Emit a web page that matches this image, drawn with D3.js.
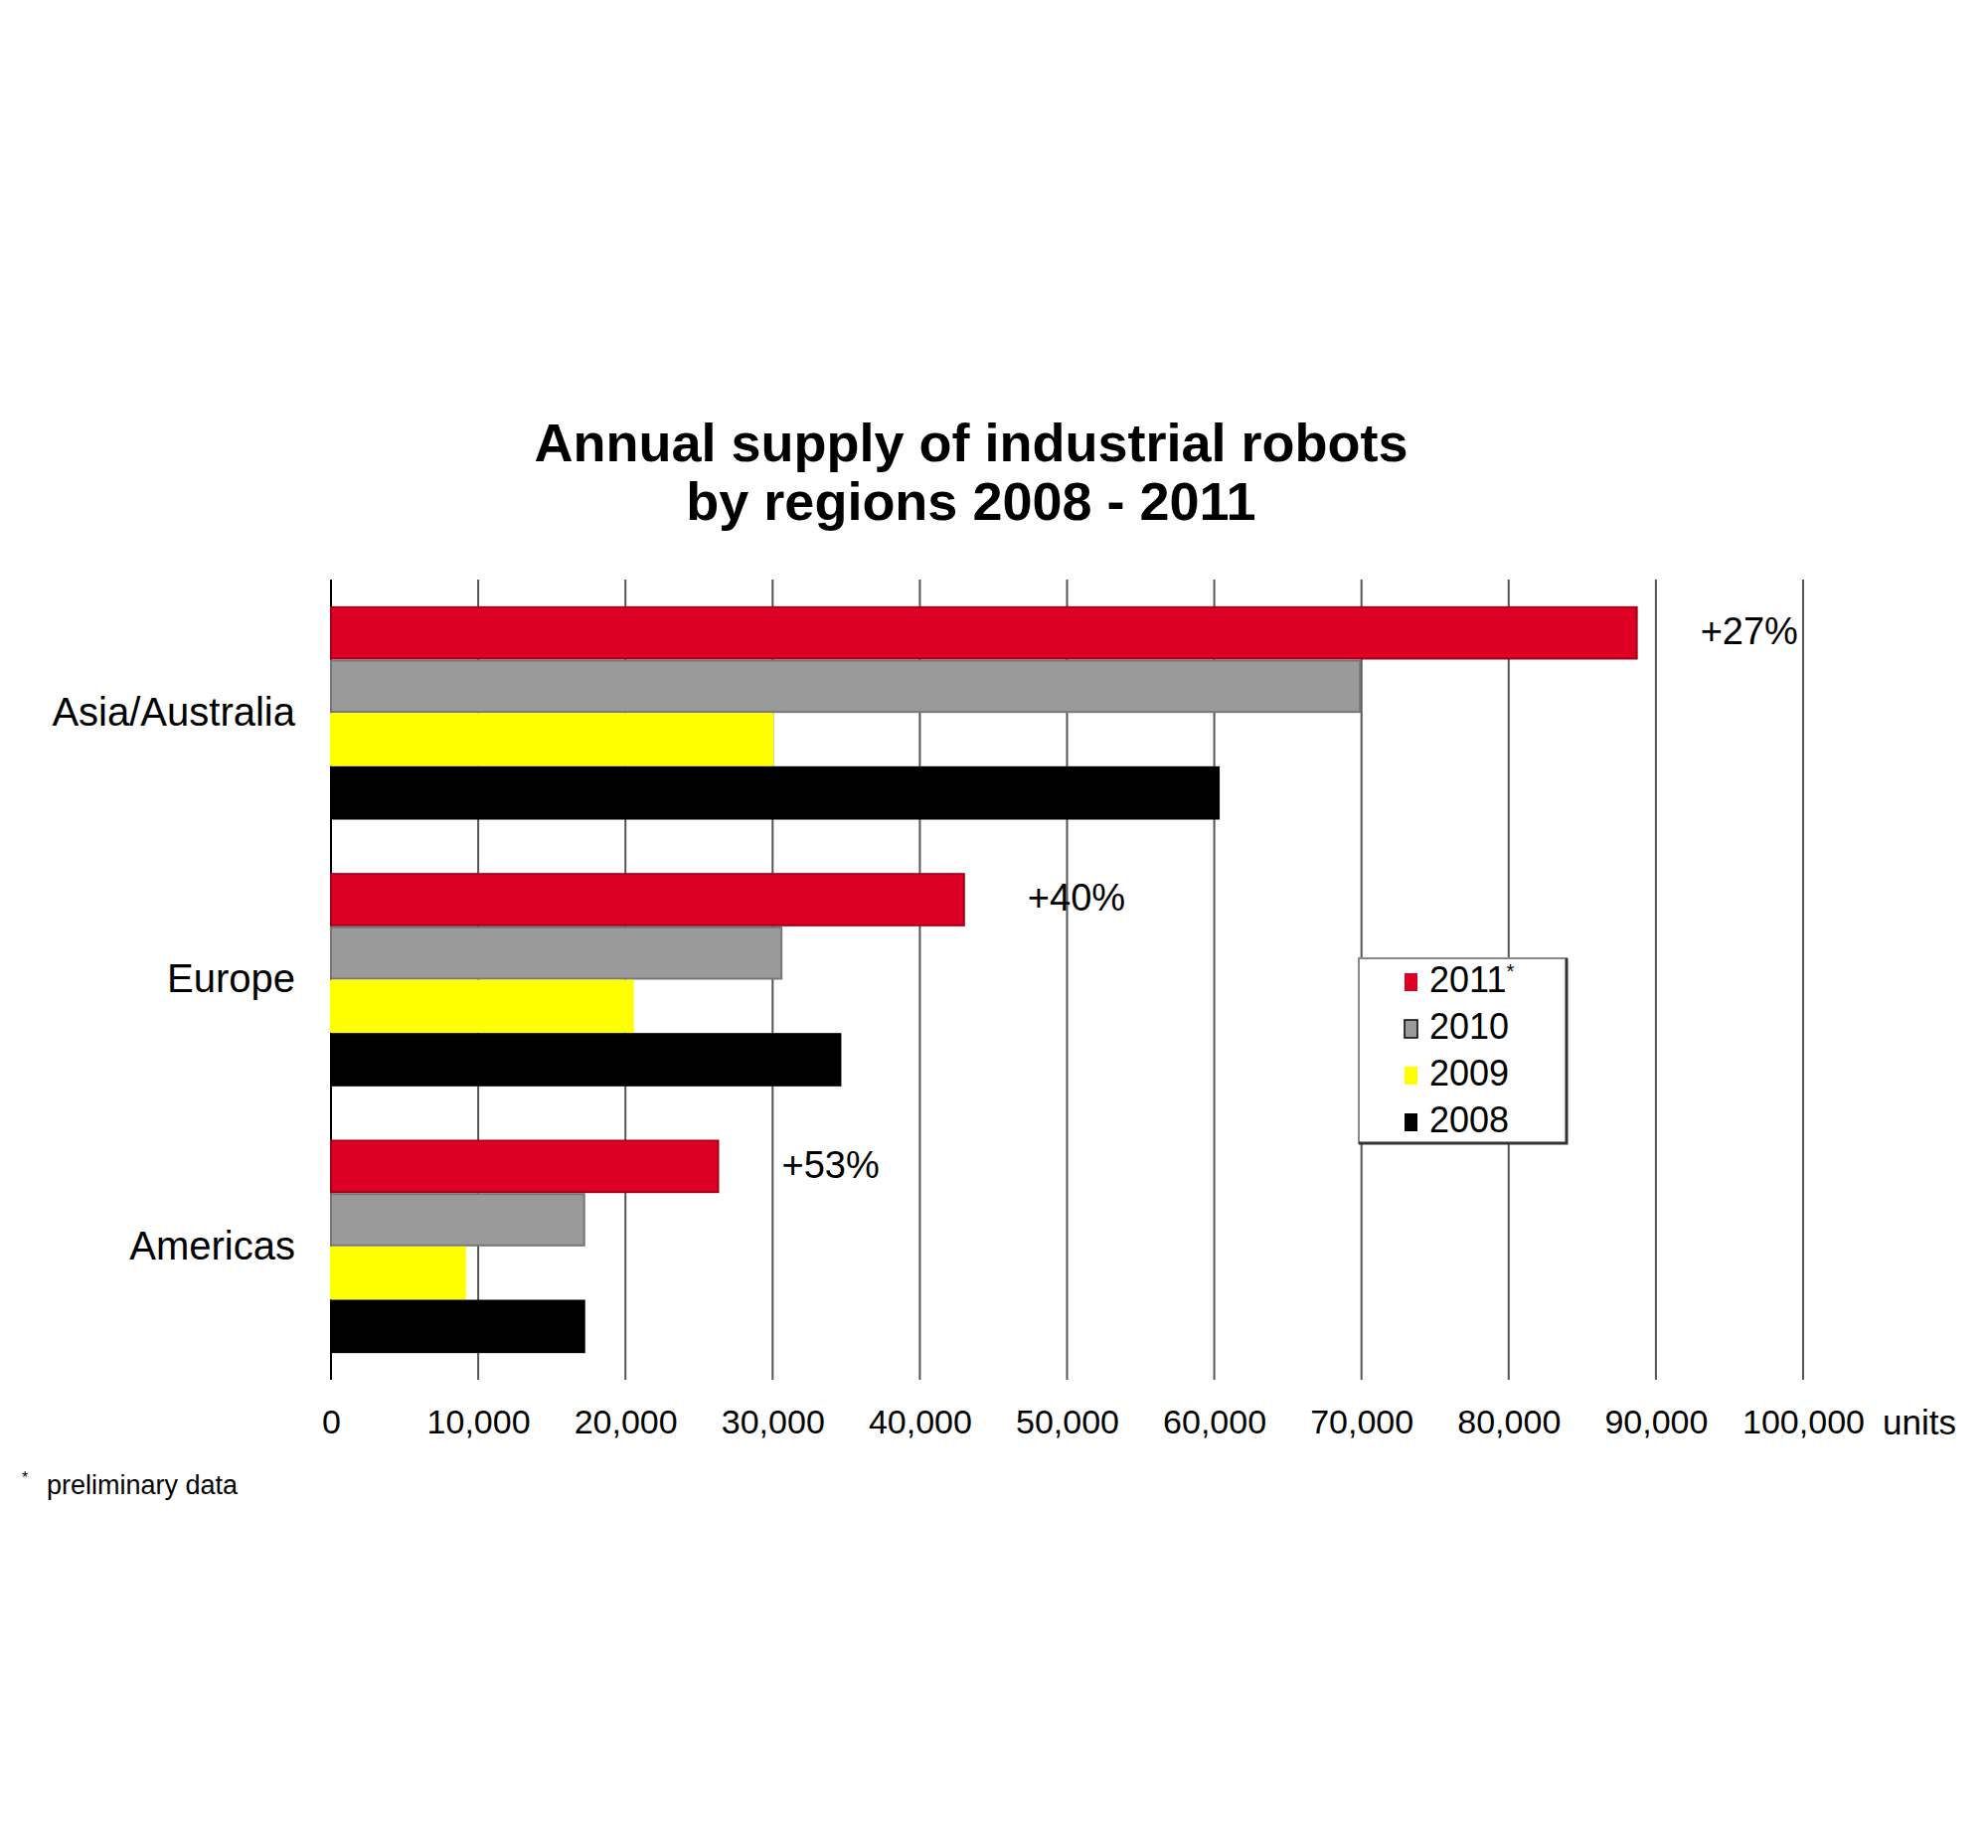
<!DOCTYPE html>
<html>
<head>
<meta charset="utf-8">
<script src="https://cdn.jsdelivr.net/npm/d3@7"></script>
<style>
  body { margin: 0; background: #fff; }
  text { font-family: "Liberation Sans", Arial, sans-serif; fill: #000; }
</style>
</head>
<body>
<div id="container"></div>
<script>
/* DATA */
const regions = ["Asia/Australia", "Europe", "Americas"]
const years = ["2011", "2010", "2009", "2008"]
const supply2011 = [88700, 43000, 26300]
const supply2010 = [69900, 30600, 17200]
const supply2009 = [30000, 20500, 9100]
const supply2008 = [60300, 34600, 17200]
const growth = ["+27%", "+40%", "+53%"]
const tickValues = [0, 10000, 20000, 30000, 40000, 50000, 60000, 70000, 80000, 90000, 100000]

/* CONSTANTS */
const width = 2000,
  height = 1859,
  margin = { top: 583, bottom: 471, left: 333, right: 186 },
  colors = { "2011": "#de0024", "2010": "#9a9a9a", "2009": "#ffff00", "2008": "#000000" },
  strokes = { "2011": "#a3001a", "2010": "#777777", "2009": "#ffff00", "2008": "#000000" }

const series = { "2011": supply2011, "2010": supply2010, "2009": supply2009, "2008": supply2008 }
const data = regions.map((r, i) => ({
  region: r,
  values: years.map(y => ({ year: y, value: series[y][i] })),
  growth: growth[i],
  latest: supply2011[i]
}))

/* SCALES */
const xScale = d3.scaleLinear()
  .domain([0, 100000])
  .range([margin.left, 1814])

const yScale = d3.scaleBand()
  .domain(regions)
  .range([margin.top, height - margin.bottom])
  .paddingInner(0.2)
  .paddingOuter(0.1)

const yInner = d3.scaleBand()
  .domain(years)
  .range([0, yScale.bandwidth()])

/* SVG */
const svg = d3.select("#container")
  .append("svg")
  .attr("width", width)
  .attr("height", height)

svg.append("rect").attr("width", width).attr("height", height).attr("fill", "#fff")

// title
const title = svg.append("text")
  .attr("x", 977)
  .attr("text-anchor", "middle")
  .attr("font-size", 54)
  .attr("font-weight", "bold")
title.append("tspan").attr("x", 977).attr("y", 464).text("Annual supply of industrial robots")
title.append("tspan").attr("x", 977).attr("y", 523).text("by regions 2008 - 2011")

// gridlines
svg.append("g")
  .selectAll("line")
  .data(tickValues)
  .join("line")
  .attr("x1", d => xScale(d))
  .attr("x2", d => xScale(d))
  .attr("y1", margin.top)
  .attr("y2", height - margin.bottom)
  .attr("stroke", d => d === 0 ? "#000" : "#555")
  .attr("stroke-width", 2)

// x axis labels
const xAxis = d3.axisBottom(xScale)
  .tickValues(tickValues)
  .tickFormat(d3.format(","))
  .tickSize(0)
  .tickPadding(0)
svg.append("g")
  .attr("transform", `translate(0,1418)`)
  .call(xAxis)
  .call(g => g.select(".domain").remove())
  .call(g => g.selectAll("text")
    .attr("font-size", 34)
    .attr("font-family", "Liberation Sans, Arial, sans-serif")
    .attr("fill", "#000"))

svg.append("text")
  .attr("x", 1894)
  .attr("y", 1443)
  .attr("font-size", 35)
  .text("units")

// region labels
svg.append("g")
  .selectAll("text")
  .data(regions)
  .join("text")
  .attr("x", margin.left - 36)
  .attr("y", d => yScale(d) + yScale.bandwidth() / 2)
  .attr("dy", "0.32em")
  .attr("text-anchor", "end")
  .attr("font-size", 40)
  .text(d => d)

// bars
const groups = svg.append("g")
  .selectAll("g")
  .data(data)
  .join("g")
  .attr("transform", d => `translate(0,${yScale(d.region)})`)

groups.selectAll("rect")
  .data(d => d.values)
  .join("rect")
  .attr("x", xScale(0))
  .attr("y", d => yInner(d.year) + 1)
  .attr("width", d => xScale(d.value) - xScale(0))
  .attr("height", yInner.bandwidth() - 2)
  .attr("fill", d => colors[d.year])
  .attr("stroke", d => strokes[d.year])
  .attr("stroke-width", 2)

// growth labels
groups.append("text")
  .attr("x", d => xScale(d.latest) + 64)
  .attr("y", yInner("2011") + yInner.bandwidth() / 2)
  .attr("dy", "0.3em")
  .attr("font-size", 38)
  .text(d => d.growth)

// legend
const legend = svg.append("g").attr("transform", "translate(1367,964)")
legend.append("rect")
  .attr("width", 209)
  .attr("height", 186)
  .attr("fill", "#fff")
  .attr("stroke", "#888")
  .attr("stroke-width", 2)
legend.append("path")
  .attr("d", "M209,0 V186 H0")
  .attr("fill", "none")
  .attr("stroke", "#333")
  .attr("stroke-width", 3)

const items = legend.selectAll(".item")
  .data(years)
  .join("g")
  .attr("class", "item")
  .attr("transform", (d, i) => `translate(0,${34 + i * 47})`)

items.append("rect")
  .attr("x", 46)
  .attr("y", -19)
  .attr("width", 13)
  .attr("height", 18)
  .attr("fill", d => colors[d])
  .attr("stroke", d => d === "2010" ? "#000" : "none")
  .attr("stroke-width", 1.5)

const labels = items.append("text")
  .attr("x", 71)
  .attr("font-size", 36)
  .text(d => d)
labels.filter(d => d === "2011")
  .append("tspan")
  .attr("font-size", 20)
  .attr("dy", -14)
  .text("*")

// footnote
svg.append("text")
  .attr("x", 22)
  .attr("y", 1492)
  .attr("font-size", 16)
  .text("*")
svg.append("text")
  .attr("x", 47)
  .attr("y", 1503)
  .attr("font-size", 27)
  .text("preliminary data")
</script>
</body>
</html>
